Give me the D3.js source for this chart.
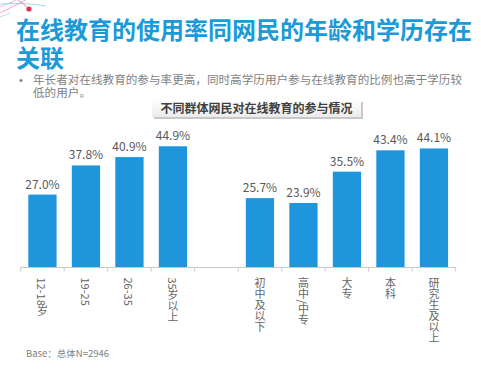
<!DOCTYPE html>
<html><head><meta charset="utf-8">
<script src="https://cdn.jsdelivr.net/npm/d3@7"></script>
<style>
html,body{margin:0;padding:0;background:#fff;}
svg{display:block;font-family:"Noto Sans CJK SC","Noto Sans",sans-serif;}
.tight{font-family:"Liberation Sans","Noto Sans CJK SC",sans-serif;}
</style></head><body>
<svg id="c" width="481" height="372"></svg>
<script>
const titleLines = ["在线教育的使用率同网民的年龄和学历存在", "关联"];
const bulletLines = ["年长者对在线教育的参与率更高，同时高学历用户参与在线教育的比例也高于学历较", "低的用户。"];
const chartTitle = "不同群体网民对在线教育的参与情况";
const categories = ["12-18岁", "19-25", "26-35", "35岁以上", "", "初中及以下", "高中/中专", "大专", "本科", "研究生及以上"];
const values = [27.0, 37.8, 40.9, 44.9, null, 25.7, 23.9, 35.5, 43.4, 44.1];
const baseNote = "Base：总体N=2946";

const svg = d3.select("#c");
const defs = svg.append("defs");
const g1 = defs.append("linearGradient").attr("id","boxg").attr("x1",0).attr("y1",0).attr("x2",0).attr("y2",1);
g1.append("stop").attr("offset","0%").attr("stop-color","#ffffff");
g1.append("stop").attr("offset","100%").attr("stop-color","#ebebeb");

// decoration top-left
const deco = svg.append("g").attr("fill","none").attr("stroke-width",0.8);
deco.append("path").attr("d","M0,13 Q14,6 26,0").attr("stroke","#f08bb8");
deco.append("path").attr("d","M0,7 Q10,3 16,0").attr("stroke","#f5a8c8");
deco.append("path").attr("d","M0,4 Q20,2 46,6").attr("stroke","#7fd3e6");
deco.append("path").attr("d","M18,0 Q24,4 29,9").attr("stroke","#e86aa0");
deco.append("path").attr("d","M0,17 Q6,15 10,13").attr("stroke","#9adbe9");
svg.append("circle").attr("cx",29).attr("cy",9).attr("r",2.6).attr("fill","#e0304a");

// title (one text, wrapped in two lines)
const tt = svg.append("text").attr("class","tight").attr("font-size",24).attr("font-weight","bold").attr("fill","#1a9ad8");
tt.selectAll("tspan").data(titleLines).join("tspan")
  .attr("x",16).attr("y",(d,i)=>39+i*28)
  .text(d=>d);

// bullet
svg.append("text").attr("class","tight").attr("x",19).attr("y",84).attr("font-size",11).attr("fill","#7f7f7f").text("•");
const bt = svg.append("text").attr("class","tight").attr("font-size",11.6).attr("fill","#7f7f7f");
bt.selectAll("tspan").data(bulletLines).join("tspan")
  .attr("x",33).attr("y",(d,i)=>83.5+i*13.2)
  .text(d=>d);

// chart title box
svg.append("rect").attr("x",154).attr("y",102).attr("width",209).attr("height",17).attr("fill","#c8c8c8");
svg.append("rect").attr("x",152).attr("y",100).attr("width",209).attr("height",17).attr("fill","url(#boxg)");
svg.append("text").attr("x",256.5).attr("y",113).attr("text-anchor","middle")
  .attr("font-size",12).attr("font-weight","bold").attr("fill","#404040").text(chartTitle);

// scales
const x = d3.scaleBand().domain(categories).range([20.7, 455.7]).paddingInner(0.35).paddingOuter(0.175);
const y = d3.scaleLinear().domain([0, 50]).range([267.5, 132.5]);

const data = categories.map((c,i)=>({c, v: values[i]})).filter(d=>d.v!==null);

svg.append("g").selectAll("rect").data(data).join("rect")
  .attr("x",d=>x(d.c)).attr("width",x.bandwidth())
  .attr("y",d=>y(d.v)).attr("height",d=>y(0)-y(d.v))
  .attr("fill","#1f96db");

svg.append("g").selectAll("text").data(data).join("text")
  .attr("x",d=>x(d.c)+x.bandwidth()/2).attr("y",d=>y(d.v)-6)
  .attr("text-anchor","middle").attr("font-size",12).attr("fill","#595959")
  .text(d=>d.v.toFixed(1)+"%");

// axis
const ax = svg.append("g").attr("stroke","#c8c8c8").attr("stroke-width",1);
ax.append("line").attr("x1",x.range()[0]).attr("x2",x.range()[1]).attr("y1",y(0)).attr("y2",y(0));
ax.selectAll("line.t").data(d3.range(categories.length+1)).join("line").attr("class","t")
  .attr("x1",i=>x.range()[0]+i*x.step()).attr("x2",i=>x.range()[0]+i*x.step())
  .attr("y1",y(0)).attr("y2",y(0)+4);

svg.append("g").selectAll("text").data(categories).join("text")
  .attr("x",d=>x(d)+x.bandwidth()/2).attr("y",y(0)+10)
  .style("writing-mode","vertical-rl").style("text-orientation","mixed")
  .attr("font-size",11).attr("fill","#666")
  .text(d=>d);

svg.append("text").attr("x",26).attr("y",357).attr("font-size",9.5).attr("fill","#7f7f7f").text(baseNote);
</script></body></html>
